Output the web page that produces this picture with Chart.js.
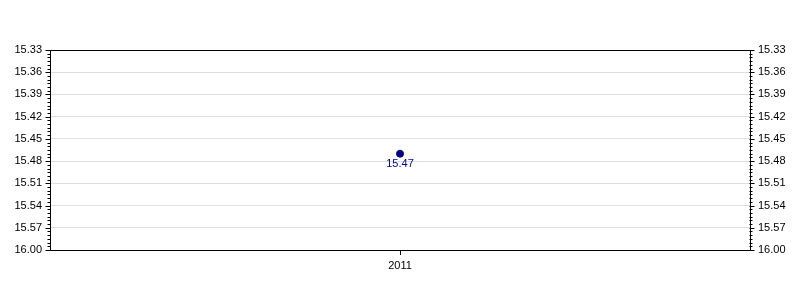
<!DOCTYPE html>
<html>
<head>
<meta charset="utf-8">
<script src="https://cdn.jsdelivr.net/npm/chart.js@4"></script>
<style>
  html, body { margin: 0; padding: 0; background: #fff; }
  #wrap { width: 800px; height: 300px; }
</style>
</head>
<body>
<div id="wrap"><canvas id="chart" width="800" height="300"></canvas></div>
<script>
const years = ['2011'];
const values = [15.47];
const yTickValues = [15.33, 15.36, 15.39, 15.42, 15.45, 15.48, 15.51, 15.54, 15.57, 15.60];
const yTickLabels = ['15.33', '15.36', '15.39', '15.42', '15.45', '15.48', '15.51', '15.54', '15.57', '16.00'];
const yMin = 15.33;
const yMax = 15.60;
const minorStep = 0.005;

const FONT = 'Arial, "Liberation Sans", sans-serif';

// custom ticks (major + minor), top border and value label
const decorations = {
  id: 'decorations',
  afterDraw(chart) {
    const { ctx, chartArea } = chart;
    ctx.save();
    ctx.strokeStyle = '#000';
    ctx.lineWidth = 1;

    // top frame line
    ctx.beginPath();
    ctx.moveTo(chartArea.left, chartArea.top + 0.5);
    ctx.lineTo(chartArea.right, chartArea.top + 0.5);
    ctx.stroke();

    ['y', 'y2'].forEach((id) => {
      const scale = chart.scales[id];
      const isLeft = id === 'y';
      const x0 = isLeft ? chartArea.left + 0.5 : chartArea.right - 0.5;
      const n = Math.round((yMax - yMin) / minorStep);
      for (let i = 0; i <= n; i++) {
        const v = yMin + i * minorStep;
        const major = i % 6 === 0;
        const len = major ? 5 : 3;
        const py = Math.round(scale.getPixelForValue(v)) + 0.5;
        ctx.beginPath();
        ctx.moveTo(x0, py);
        ctx.lineTo(isLeft ? x0 - len : x0 + len, py);
        ctx.stroke();
      }
    });

    // x tick
    const xs = chart.scales.x;
    years.forEach((_, i) => {
      const px = Math.round(xs.getPixelForValue(i)) + 0.5;
      ctx.beginPath();
      ctx.moveTo(px, chartArea.bottom);
      ctx.lineTo(px, chartArea.bottom + 5);
      ctx.stroke();
    });

    // value labels
    const meta = chart.getDatasetMeta(0);
    ctx.fillStyle = '#0000aa';
    ctx.font = '11px ' + FONT;
    ctx.textAlign = 'center';
    ctx.textBaseline = 'top';
    meta.data.forEach((pt, i) => {
      ctx.fillText(values[i].toFixed(2), pt.x, pt.y + 5);
    });
    ctx.restore();
  },
};

const yAxisBase = (position) => ({
  type: 'linear',
  position,
  reverse: true,
  min: yMin,
  max: yMax,
  afterBuildTicks: (scale) => {
    scale.ticks = yTickValues.map((value) => ({ value }));
  },
  afterFit: (scale) => {
    scale.width = 50;
  },
  ticks: {
    color: '#000',
    font: { family: FONT, size: 11 },
    padding: 8,
    callback: (value, index) => yTickLabels[index],
  },
  grid: {
    drawOnChartArea: position === 'left',
    color: '#dddddd',
    drawTicks: false,
  },
  border: { display: true, color: '#000' },
});

new Chart(document.getElementById('chart'), {
  type: 'line',
  data: {
    labels: years,
    datasets: [
      {
        data: values,
        borderColor: '#000080',
        backgroundColor: '#000080',
        pointRadius: 3.5,
        pointBorderWidth: 1,
        showLine: false,
      },
    ],
  },
  plugins: [decorations],
  options: {
    responsive: false,
    animation: false,
    layout: { padding: { top: 50, left: 0, right: 0, bottom: 0 } },
    plugins: {
      legend: { display: false },
      tooltip: { enabled: false },
    },
    scales: {
      x: {
        offset: true,
        afterFit: (scale) => {
          scale.height = 50;
        },
        ticks: {
          color: '#000',
          font: { family: FONT, size: 11 },
          padding: 9,
        },
        grid: { display: false, drawTicks: false },
        border: { display: true, color: '#000' },
      },
      y: yAxisBase('left'),
      y2: yAxisBase('right'),
    },
  },
});
</script>
</body>
</html>
